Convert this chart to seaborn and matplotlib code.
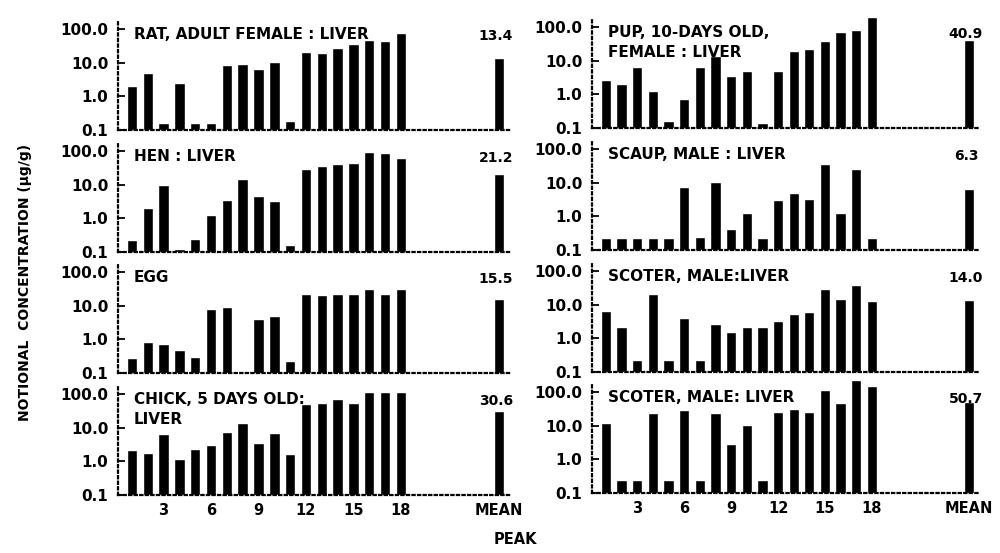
import numpy as np
import pandas as pd
import matplotlib
matplotlib.use('Agg')
import matplotlib.pyplot as plt
import seaborn as sns

# peak values (ug/g), peaks 1..18
peaks = list(range(1, 19))

rat = [2.1, 5.1, 0.16, 2.5, 0.16, 0.16, 8.3, 8.9, 6.5, 10.5, 0.18, 21, 19, 28, 35, 48, 45, 78]
hen = [0.22, 2.0, 10, 0.12, 0.25, 1.3, 3.5, 15, 4.5, 3.2, 0.16, 30, 37, 42, 43, 93, 89, 63]
egg = [0.28, 0.85, 0.71, 0.49, 0.29, 7.9, 9.2, np.nan, 3.9, 4.9, 0.22, 23, 21, 22, 22, 32, 23, 32]
chick = [2.2, 1.8, 6.3, 1.2, 2.4, 3.0, 7.6, 14, 3.5, 6.8, 1.7, 50, 56, 74, 56, 112, 112, 117]
pup = [2.6, 2.0, 6.3, 1.3, 0.16, 0.75, 6.3, 14, 3.6, 4.8, 0.14, 4.8, 20, 23, 39, 73, 82, 200]
scaup = [0.23, 0.23, 0.23, 0.23, 0.23, 7.3, 0.24, 10.2, 0.41, 1.25, 0.23, 3.1, 4.9, 3.3, 35, 1.25, 26, 0.23]
scoter_a = [6.4, 2.2, 0.23, 21, 0.23, 3.9, 0.23, 2.6, 1.5, 2.2, 2.2, 3.2, 5.4, 6.0, 30, 15, 39, 13]
scoter_b = [11.7, 0.25, 0.25, 24, 0.25, 30, 0.25, 24, 2.9, 10.5, 0.24, 26, 32, 25, 115, 47, 230, 150]

titles_left = ['RAT, ADULT FEMALE : LIVER', 'HEN : LIVER', 'EGG', 'CHICK, 5 DAYS OLD:\nLIVER']
titles_right = ['PUP, 10-DAYS OLD,\nFEMALE : LIVER', 'SCAUP, MALE : LIVER',
                'SCOTER, MALE:LIVER', 'SCOTER, MALE: LIVER']
means_left = [13.4, 21.2, 15.5, 30.6]
means_right = [40.9, 6.3, 14.0, 50.7]

ytick_vals = [0.1, 1, 10, 100]
ytick_labels = ['0.1', '1.0', '10.0', '100.0']
xtick_vals = [3, 6, 9, 12, 15, 18]
MEAN_X = 24.2
FLOOR = 0.1

sns.set_theme(style='white')
plt.rcParams['font.family'] = ['DejaVu Sans']
plt.rcParams['font.weight'] = 'bold'
for k in ['text.color', 'axes.labelcolor', 'xtick.color', 'ytick.color']:
    plt.rcParams[k] = 'black'

fig = plt.figure(figsize=(10, 5.53), dpi=100)
W, H = 1000, 553
col_x = [118, 592]
col_w = [392, 388]
baselines = [[130, 252, 373, 495], [128, 250, 372, 493]]
PANEL_H = 111

panels = [[rat, hen, egg, chick], [pup, scaup, scoter_a, scoter_b]]
titles = [titles_left, titles_right]
means = [means_left, means_right]

for c in range(2):
    for r in range(4):
        ax = fig.add_axes([col_x[c] / W, 1 - baselines[c][r] / H, col_w[c] / W, PANEL_H / H])
        df = pd.DataFrame({'x': peaks + [MEAN_X], 'y': panels[c][r] + [means[c][r]]}).dropna()
        sns.barplot(data=df, x='x', y='y', native_scale=True, width=0.66, color='black',
                    saturation=1, errorbar=None, ax=ax)
        # bars stand on the 0.1 floor of the log axis
        for p in ax.patches:
            top = p.get_y() + p.get_height()
            p.set_y(FLOOR)
            p.set_height(top - FLOOR)
            p.set_clip_on(False)
        ax.set_yscale('log')
        ax.set_ylim(FLOOR, 200)
        ax.set_xlim(0.12, 24.9)
        ax.set_yticks(ytick_vals)
        ax.set_yticklabels(ytick_labels, fontsize=11, fontweight='bold')
        ax.minorticks_off()
        ax.tick_params(axis='y', direction='in', length=5, width=1.3, left=True, pad=7)
        ax.tick_params(axis='x', length=0, pad=6)
        if r == 3:
            ax.set_xticks(xtick_vals + [MEAN_X])
            ax.set_xticklabels([str(v) for v in xtick_vals] + ['MEAN'], fontsize=10.5, fontweight='bold')
        else:
            ax.set_xticks([])
        ax.set_xlabel('')
        ax.set_ylabel('')
        for s in ['top', 'right']:
            ax.spines[s].set_visible(False)
        for s in ['left', 'bottom']:
            ax.spines[s].set_linestyle((0, (1, 1.5)))
            ax.spines[s].set_linewidth(1.6)
            ax.spines[s].set_color('black')
        ax.patch.set_alpha(0)
        ax.text(0.04, 0.93, titles[c][r], transform=ax.transAxes, ha='left', va='top',
                fontsize=11, fontweight='bold', linespacing=1.4)
        ax.text(MEAN_X - 0.2, 0.78, f'{means[c][r]:.1f}', transform=ax.get_xaxis_transform(),
                ha='center', va='bottom', fontsize=10, fontweight='bold')

fig.text(0.025, 0.49, 'NOTIONAL  CONCENTRATION (\u03bcg/g)', rotation=90, ha='center', va='center',
         fontsize=10, fontweight='bold')
fig.text(0.515, 0.024, 'PEAK', ha='center', va='center', fontsize=10.5, fontweight='bold')

fig.savefig('out.png', dpi=100, facecolor='white')
